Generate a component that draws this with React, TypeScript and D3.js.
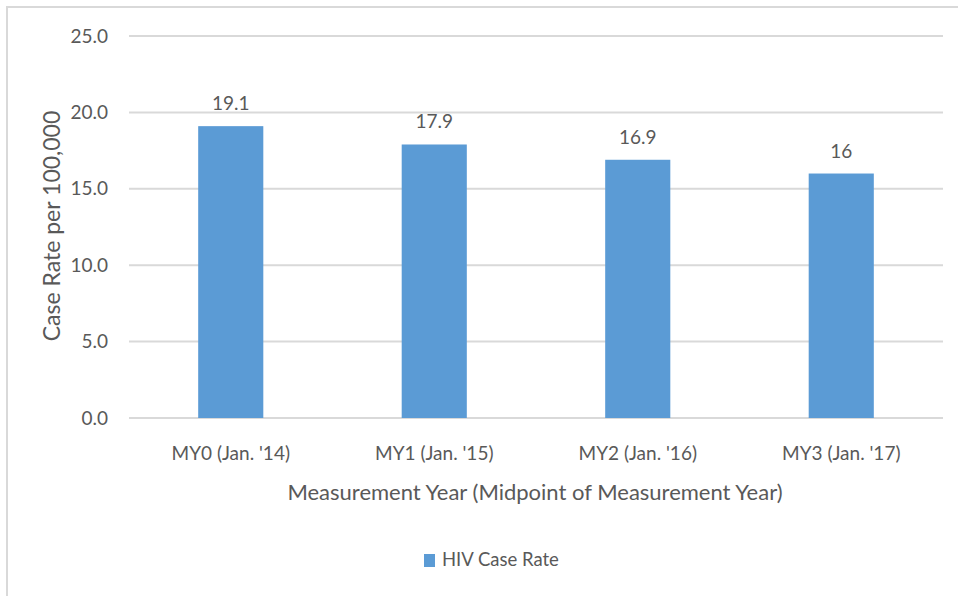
import React from "react";
import * as d3 from "d3";

const categories = ["MY0 (Jan. '14)", "MY1 (Jan. '15)", "MY2 (Jan. '16)", "MY3 (Jan. '17)"];
const values = [19.1, 17.9, 16.9, 16];
const valueLabels = ["19.1", "17.9", "16.9", "16"];
const yTicks = [0, 5, 10, 15, 20, 25];
const seriesName = "HIV Case Rate";
const xTitle = "Measurement Year (Midpoint of Measurement Year)";
const yTitle = "Case Rate per 100,000";

export default function App() {
  const W = 958, H = 596;
  const left = 129, right = 943, top = 36, bottom = 418;
  const x = d3.scaleBand<string>().domain(categories).range([left, right]).paddingInner(0.68).paddingOuter(0.34);
  const y = d3.scaleLinear().domain([0, 25]).range([bottom, top]);
  const font = "Lato, 'Open Sans', sans-serif";
  const txt = "#595959";
  const bw = x.bandwidth();
  return (
    <svg width={W} height={H} style={{ position: "absolute", left: 0, top: 0, background: "#fff" }} fontFamily={font}>
      <rect x={7} y={7} width={W + 20} height={H + 20} fill="#fff" stroke="#d9d9d9" strokeWidth={2} />
      {yTicks.map((t) => (
        <g key={t}>
          <line x1={left} x2={right} y1={y(t)} y2={y(t)} stroke="#d9d9d9" strokeWidth={2} />
          <text x={108} y={y(t)} dy="0.35em" textAnchor="end" fontSize={19} fill={txt}>
            {t.toFixed(1)}
          </text>
        </g>
      ))}
      {categories.map((c, i) => (
        <g key={c}>
          <rect x={x(c)!} y={y(values[i])} width={bw} height={y(0) - y(values[i])} fill="#5B9BD5" />
          <text x={x(c)! + bw / 2} y={y(values[i]) - 16} textAnchor="middle" fontSize={19} fill={txt}>
            {valueLabels[i]}
          </text>
          <text x={x(c)! + bw / 2} y={453} dy="0.35em" textAnchor="middle" fontSize={19} fill={txt}>
            {c}
          </text>
        </g>
      ))}
      <text x={535} y={492} dy="0.35em" textAnchor="middle" fontSize={22} fill={txt}>
        {xTitle}
      </text>
      <text transform={`translate(52,226) rotate(-90)`} dy="0.35em" textAnchor="middle" fontSize={23} fill={txt}>
        {yTitle}
      </text>
      <rect x={424} y={554} width={11} height={13} fill="#5B9BD5" />
      <text x={442} y={560} dy="0.35em" fontSize={18.5} fill={txt}>
        {seriesName}
      </text>
    </svg>
  );
}
